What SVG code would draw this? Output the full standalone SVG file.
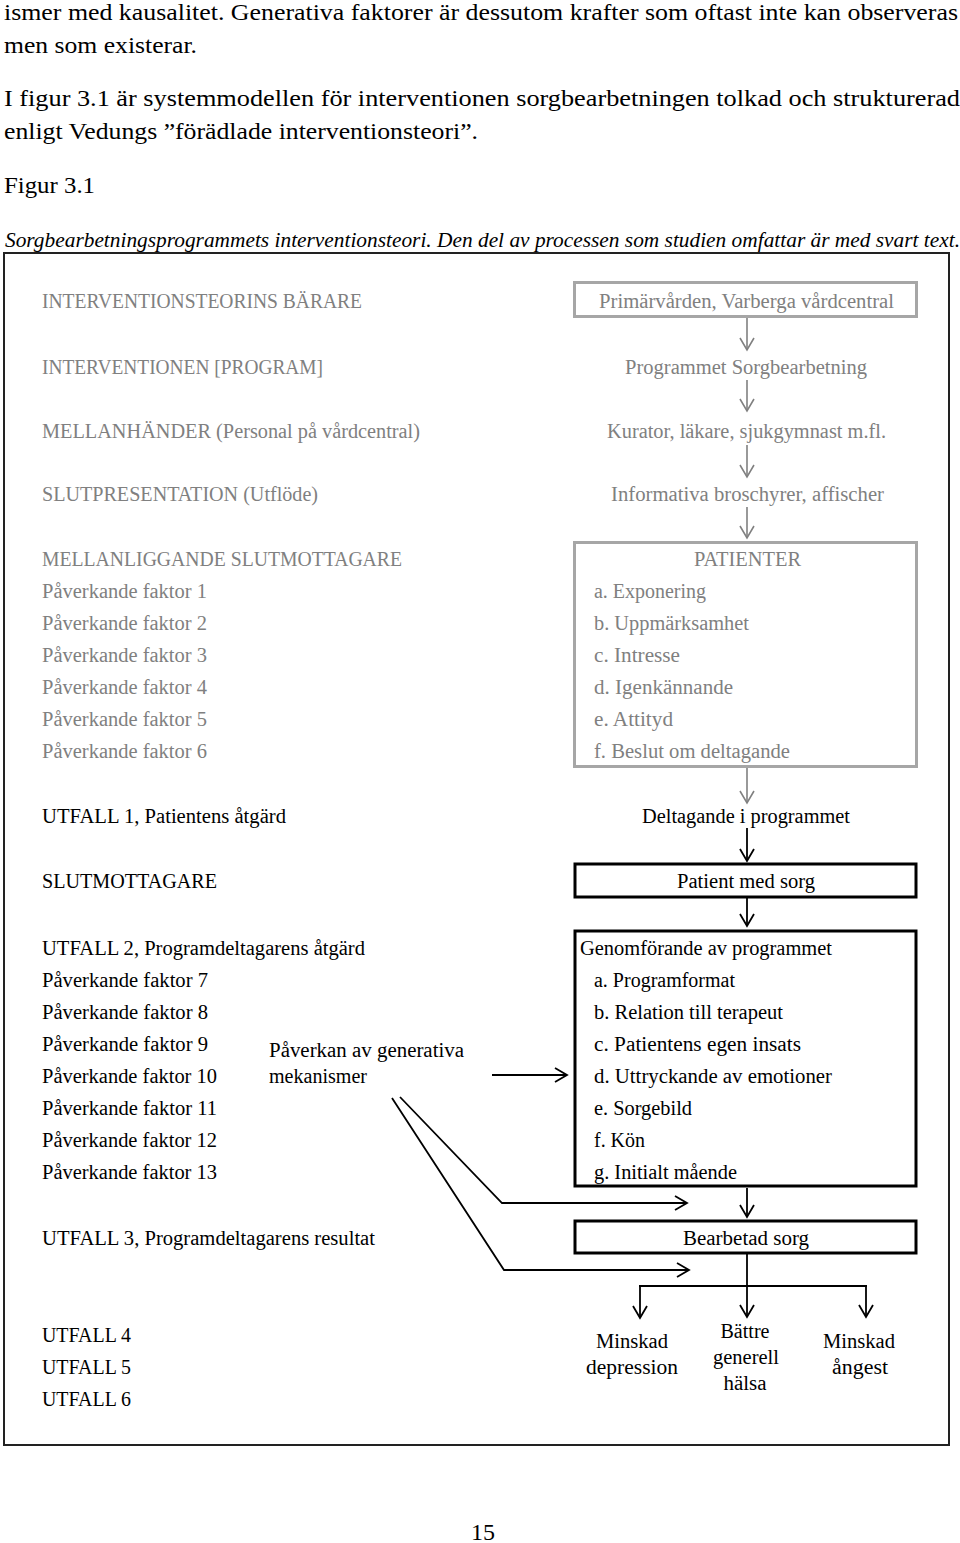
<svg xmlns="http://www.w3.org/2000/svg" width="960" height="1543" viewBox="0 0 960 1543">
<style>
text{font-family:"Liberation Serif","Times New Roman",serif;}
.p{font-size:24px;fill:#000;}
.cap{font-size:21px;font-style:italic;fill:#000;}
.g{font-size:20px;fill:#808080;}
.b{font-size:20px;fill:#000;}
.m{text-anchor:middle;}
.gbox{fill:none;stroke:#a6a6a6;stroke-width:3;}
.bbox{fill:none;stroke:#000;stroke-width:3;}
.ga{fill:none;stroke:#808080;stroke-width:1.6;marker-end:url(#ah-g);}
.ba{fill:none;stroke:#000;stroke-width:1.8;marker-end:url(#ah-b);}
.bl{fill:none;stroke:#000;stroke-width:1.8;}
</style>
<defs>
<marker id="ah-g" markerUnits="userSpaceOnUse" markerWidth="16" markerHeight="18" refX="13" refY="8" orient="auto" viewBox="0 0 16 18">
<path d="M1,1 L13,8 L1,15" fill="none" stroke="#808080" stroke-width="1.6"/>
</marker>
<marker id="ah-b" markerUnits="userSpaceOnUse" markerWidth="16" markerHeight="18" refX="13" refY="8" orient="auto" viewBox="0 0 16 18">
<path d="M1,1 L13,8 L1,15" fill="none" stroke="#000" stroke-width="1.8"/>
</marker>
</defs>
<rect width="960" height="1543" fill="#fff"/>

<g id="intro">
<text class="p" x="4" y="20" textLength="954" lengthAdjust="spacingAndGlyphs">ismer med kausalitet. Generativa faktorer är dessutom krafter som oftast inte kan observeras</text>
<text class="p" x="4" y="53" textLength="193" lengthAdjust="spacingAndGlyphs">men som existerar.</text>
<text class="p" x="4" y="106" textLength="956" lengthAdjust="spacingAndGlyphs">I figur 3.1 är systemmodellen för interventionen sorgbearbetningen tolkad och strukturerad</text>
<text class="p" x="4" y="139" textLength="474" lengthAdjust="spacingAndGlyphs">enligt Vedungs ”förädlade interventionsteori”.</text>
<text class="p" x="4" y="193" textLength="91" lengthAdjust="spacingAndGlyphs">Figur 3.1</text>
<text class="cap" x="5" y="247" textLength="955" lengthAdjust="spacingAndGlyphs">Sorgbearbetningsprogrammets interventionsteori. Den del av processen som studien omfattar är med svart text.</text>
</g>

<g id="frame">
<rect x="4" y="253" width="945" height="1192" fill="none" stroke="#222" stroke-width="2"/>
</g>

<g id="left-labels">
<text class="g" x="42" y="308" textLength="320" lengthAdjust="spacingAndGlyphs">INTERVENTIONSTEORINS BÄRARE</text>
<text class="g" x="42" y="374" textLength="281" lengthAdjust="spacingAndGlyphs">INTERVENTIONEN [PROGRAM]</text>
<text class="g" x="42" y="438" textLength="378" lengthAdjust="spacingAndGlyphs">MELLANHÄNDER (Personal på vårdcentral)</text>
<text class="g" x="42" y="501" textLength="276" lengthAdjust="spacingAndGlyphs">SLUTPRESENTATION (Utflöde)</text>
<text class="g" x="42" y="566" textLength="360" lengthAdjust="spacingAndGlyphs">MELLANLIGGANDE SLUTMOTTAGARE</text>
<text class="g" x="42" y="598" textLength="165" lengthAdjust="spacingAndGlyphs">Påverkande faktor 1</text>
<text class="g" x="42" y="630" textLength="165" lengthAdjust="spacingAndGlyphs">Påverkande faktor 2</text>
<text class="g" x="42" y="662" textLength="165" lengthAdjust="spacingAndGlyphs">Påverkande faktor 3</text>
<text class="g" x="42" y="694" textLength="165" lengthAdjust="spacingAndGlyphs">Påverkande faktor 4</text>
<text class="g" x="42" y="726" textLength="165" lengthAdjust="spacingAndGlyphs">Påverkande faktor 5</text>
<text class="g" x="42" y="758" textLength="165" lengthAdjust="spacingAndGlyphs">Påverkande faktor 6</text>
<text class="b" x="42" y="823" textLength="244" lengthAdjust="spacingAndGlyphs">UTFALL 1, Patientens åtgärd</text>
<text class="b" x="42" y="888" textLength="175" lengthAdjust="spacingAndGlyphs">SLUTMOTTAGARE</text>
<text class="b" x="42" y="955" textLength="323" lengthAdjust="spacingAndGlyphs">UTFALL 2, Programdeltagarens åtgärd</text>
<text class="b" x="42" y="987" textLength="166" lengthAdjust="spacingAndGlyphs">Påverkande faktor 7</text>
<text class="b" x="42" y="1019" textLength="166" lengthAdjust="spacingAndGlyphs">Påverkande faktor 8</text>
<text class="b" x="42" y="1051" textLength="166" lengthAdjust="spacingAndGlyphs">Påverkande faktor 9</text>
<text class="b" x="42" y="1083" textLength="175" lengthAdjust="spacingAndGlyphs">Påverkande faktor 10</text>
<text class="b" x="42" y="1115" textLength="175" lengthAdjust="spacingAndGlyphs">Påverkande faktor 11</text>
<text class="b" x="42" y="1147" textLength="175" lengthAdjust="spacingAndGlyphs">Påverkande faktor 12</text>
<text class="b" x="42" y="1179" textLength="175" lengthAdjust="spacingAndGlyphs">Påverkande faktor 13</text>
<text class="b" x="42" y="1245" textLength="333" lengthAdjust="spacingAndGlyphs">UTFALL 3, Programdeltagarens resultat</text>
<text class="b" x="42" y="1342" textLength="89" lengthAdjust="spacingAndGlyphs">UTFALL 4</text>
<text class="b" x="42" y="1374" textLength="89" lengthAdjust="spacingAndGlyphs">UTFALL 5</text>
<text class="b" x="42" y="1406" textLength="89" lengthAdjust="spacingAndGlyphs">UTFALL 6</text>
</g>

<g id="generativa">
<text class="b" x="269" y="1057" textLength="195" lengthAdjust="spacingAndGlyphs">Påverkan av generativa</text>
<text class="b" x="269" y="1083" textLength="98" lengthAdjust="spacingAndGlyphs">mekanismer</text>
</g>

<g id="node-primarvarden">
<rect class="gbox" x="574.5" y="282.5" width="342" height="34"/>
<text class="g" x="599" y="308" textLength="295" lengthAdjust="spacingAndGlyphs">Primärvården, Varberga vårdcentral</text>
</g>
<g id="node-programmet">
<text class="g" x="625" y="374" textLength="242" lengthAdjust="spacingAndGlyphs">Programmet Sorgbearbetning</text>
</g>
<g id="node-kurator">
<text class="g" x="607" y="438" textLength="279" lengthAdjust="spacingAndGlyphs">Kurator, läkare, sjukgymnast m.fl.</text>
</g>
<g id="node-informativa">
<text class="g" x="611" y="501" textLength="273" lengthAdjust="spacingAndGlyphs">Informativa broschyrer, affischer</text>
</g>
<g id="node-patienter">
<rect class="gbox" x="574.5" y="542.5" width="342" height="224"/>
<text class="g" x="694" y="566" textLength="107" lengthAdjust="spacingAndGlyphs">PATIENTER</text>
<text class="g" x="594" y="598" textLength="112" lengthAdjust="spacingAndGlyphs">a. Exponering</text>
<text class="g" x="594" y="630" textLength="155" lengthAdjust="spacingAndGlyphs">b. Uppmärksamhet</text>
<text class="g" x="594" y="662" textLength="86" lengthAdjust="spacingAndGlyphs">c. Intresse</text>
<text class="g" x="594" y="694" textLength="139" lengthAdjust="spacingAndGlyphs">d. Igenkännande</text>
<text class="g" x="594" y="726" textLength="79" lengthAdjust="spacingAndGlyphs">e. Attityd</text>
<text class="g" x="594" y="758" textLength="196" lengthAdjust="spacingAndGlyphs">f. Beslut om deltagande</text>
</g>
<g id="node-deltagande">
<text class="b" x="642" y="823" textLength="208" lengthAdjust="spacingAndGlyphs">Deltagande i programmet</text>
</g>
<g id="node-patient-med-sorg">
<rect class="bbox" x="575" y="864" width="341" height="33"/>
<text class="b" x="677" y="888" textLength="138" lengthAdjust="spacingAndGlyphs">Patient med sorg</text>
</g>
<g id="node-genomforande">
<rect class="bbox" x="575" y="931" width="341" height="255"/>
<text class="b" x="580" y="955" textLength="252" lengthAdjust="spacingAndGlyphs">Genomförande av programmet</text>
<text class="b" x="594" y="987" textLength="141" lengthAdjust="spacingAndGlyphs">a. Programformat</text>
<text class="b" x="594" y="1019" textLength="189" lengthAdjust="spacingAndGlyphs">b. Relation till terapeut</text>
<text class="b" x="594" y="1051" textLength="207" lengthAdjust="spacingAndGlyphs">c. Patientens egen insats</text>
<text class="b" x="594" y="1083" textLength="238" lengthAdjust="spacingAndGlyphs">d. Uttryckande av emotioner</text>
<text class="b" x="594" y="1115" textLength="98" lengthAdjust="spacingAndGlyphs">e. Sorgebild</text>
<text class="b" x="594" y="1147" textLength="51" lengthAdjust="spacingAndGlyphs">f. Kön</text>
<text class="b" x="594" y="1179" textLength="143" lengthAdjust="spacingAndGlyphs">g. Initialt mående</text>
</g>
<g id="node-bearbetad">
<rect class="bbox" x="575" y="1221" width="341" height="32"/>
<text class="b" x="683" y="1245" textLength="126" lengthAdjust="spacingAndGlyphs">Bearbetad sorg</text>
</g>
<g id="node-depression">
<text class="b m" x="632" y="1348" textLength="72" lengthAdjust="spacingAndGlyphs">Minskad</text>
<text class="b m" x="632" y="1374" textLength="92" lengthAdjust="spacingAndGlyphs">depression</text>
</g>
<g id="node-halsa">
<text class="b m" x="745" y="1338" textLength="49" lengthAdjust="spacingAndGlyphs">Bättre</text>
<text class="b m" x="746" y="1364" textLength="66" lengthAdjust="spacingAndGlyphs">generell</text>
<text class="b m" x="745" y="1390" textLength="43" lengthAdjust="spacingAndGlyphs">hälsa</text>
</g>
<g id="node-angest">
<text class="b m" x="859" y="1348" textLength="72" lengthAdjust="spacingAndGlyphs">Minskad</text>
<text class="b m" x="860" y="1374" textLength="56" lengthAdjust="spacingAndGlyphs">ångest</text>
</g>

<g id="connectors">
<line class="ga" x1="747" y1="318" x2="747" y2="350"/>
<line class="ga" x1="747" y1="380" x2="747" y2="411"/>
<line class="ga" x1="747" y1="445" x2="747" y2="477"/>
<line class="ga" x1="747" y1="507" x2="747" y2="538"/>
<line class="ga" x1="747" y1="768" x2="747" y2="803"/>
<line class="ba" x1="747" y1="828" x2="747" y2="861"/>
<line class="ba" x1="747" y1="898" x2="747" y2="926"/>
<line class="ba" x1="747" y1="1188" x2="747" y2="1217"/>
<line class="ba" x1="492" y1="1075" x2="567" y2="1075"/>
<polyline class="ba" points="400,1097 502,1203 687,1203"/>
<polyline class="ba" points="392,1098 504,1270 689,1270"/>
<line class="bl" x1="747" y1="1254" x2="747" y2="1286"/>
<line class="bl" x1="639" y1="1286" x2="867" y2="1286"/>
<line class="ba" x1="640" y1="1286" x2="640" y2="1318"/>
<line class="ba" x1="747" y1="1286" x2="747" y2="1317"/>
<line class="ba" x1="866" y1="1286" x2="866" y2="1317"/>
</g>

<g id="page-number">
<text class="p" x="483" y="1540" text-anchor="middle">15</text>
</g>
</svg>
